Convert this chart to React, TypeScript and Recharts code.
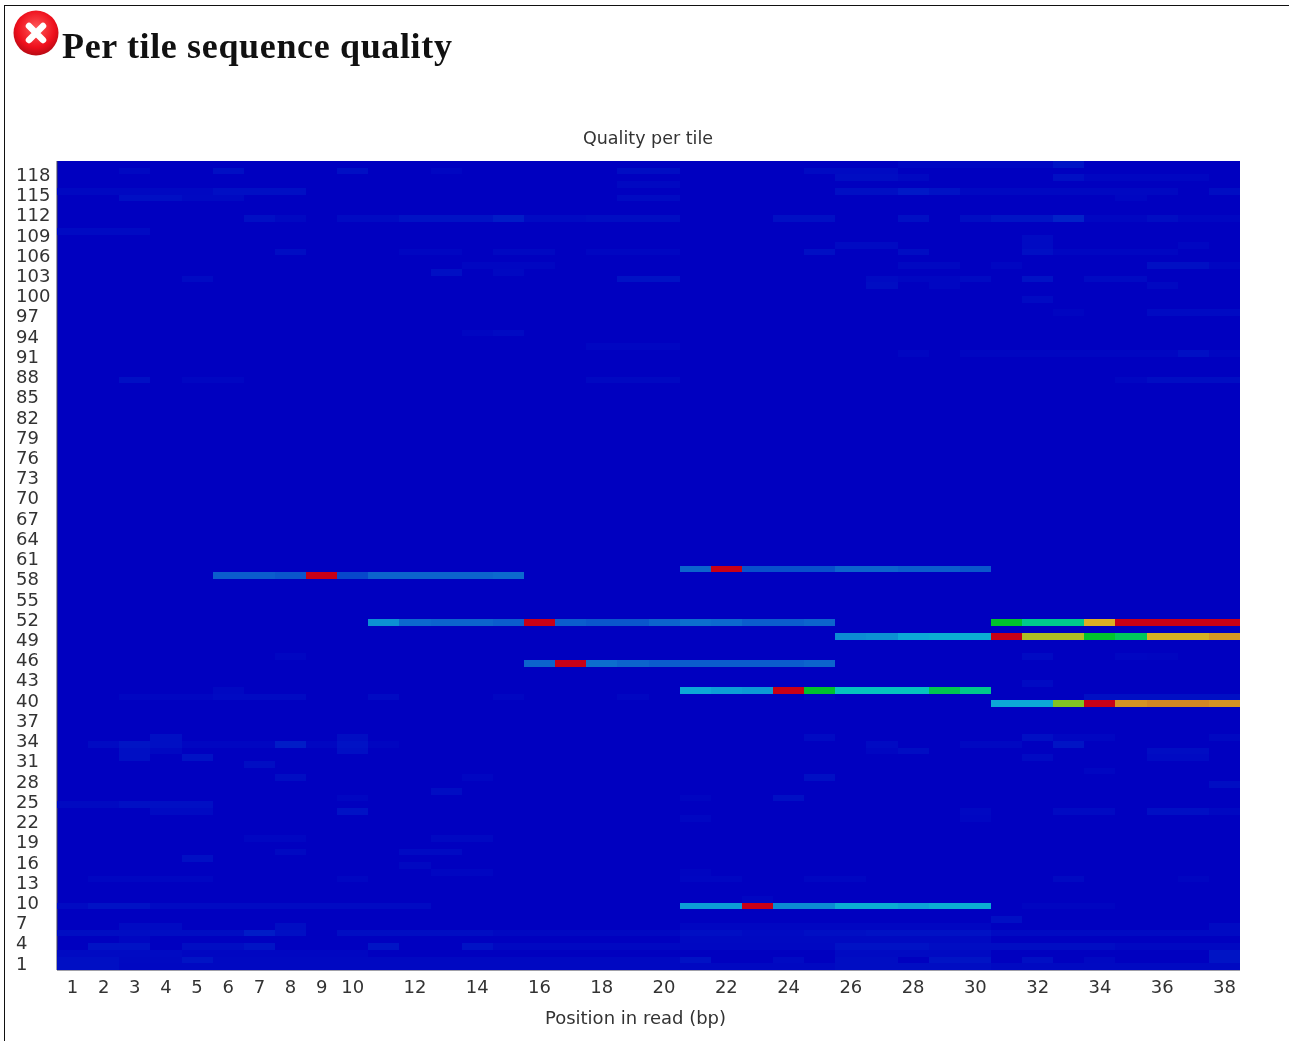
import { CartesianGrid, Scatter, ScatterChart, XAxis, YAxis } from "recharts";

const tileCount = 120;
const positionCount = 38;

const positionTicks = [1, 2, 3, 4, 5, 6, 7, 8, 9, 10, 12, 14, 16, 18, 20, 22, 24, 26, 28, 30, 32, 34, 36, 38];
const tileTicks = [
  1, 4, 7, 10, 13, 16, 19, 22, 25, 28, 31, 34, 37, 40, 43, 46, 49, 52, 55, 58, 61, 64, 67, 70, 73, 76, 79, 82, 85,
  88, 91, 94, 97, 100, 103, 106, 109, 112, 115, 118,
];

// failing tiles: [tile, first position, values...]
const hotRuns: number[][] = [
  [60, 21, 0.16, 1, 0.13, 0.13, 0.13, 0.16, 0.16, 0.15, 0.15, 0.14],
  [59, 6, 0.15, 0.15, 0.14, 1, 0.12, 0.16, 0.16, 0.16, 0.16, 0.17],
  [52, 11, 0.25, 0.17, 0.16, 0.16, 0.15, 1, 0.15, 0.14, 0.14, 0.16, 0.18, 0.17, 0.15, 0.15, 0.16],
  [52, 31, 0.5, 0.42, 0.42, 0.7, 1, 1, 1, 1],
  [50, 26, 0.24, 0.25, 0.3, 0.31, 0.31, 1, 0.63, 0.63, 0.5, 0.46, 0.69, 0.69, 0.76],
  [46, 16, 0.16, 1, 0.18, 0.16, 0.15, 0.15, 0.15, 0.15, 0.15, 0.16],
  [42, 21, 0.3, 0.28, 0.27, 1, 0.5, 0.36, 0.36, 0.36, 0.47, 0.42],
  [40, 31, 0.3, 0.3, 0.58, 1, 0.77, 0.8, 0.8, 0.77],
  [10, 21, 0.28, 0.28, 1, 0.24, 0.24, 0.31, 0.31, 0.29, 0.31, 0.31],
];

// background noise: [tile, first position, last position, value]
const faintRuns: number[][] = [
  [120, 28, 32, 0.012], [120, 33, 33, 0.04],
  [119, 3, 3, 0.015], [119, 6, 6, 0.03], [119, 10, 10, 0.03], [119, 13, 13, 0.012], [119, 19, 20, 0.025], [119, 25, 27, 0.02],
  [118, 26, 27, 0.025], [118, 28, 28, 0.015], [118, 33, 33, 0.03], [118, 34, 37, 0.012],
  [117, 19, 20, 0.015],
  [116, 1, 5, 0.015], [116, 6, 7, 0.03], [116, 8, 8, 0.03], [116, 26, 27, 0.03], [116, 28, 28, 0.05], [116, 29, 29, 0.035], [116, 30, 36, 0.015], [116, 38, 38, 0.025],
  [115, 3, 4, 0.03], [115, 5, 6, 0.018], [115, 19, 20, 0.02], [115, 35, 35, 0.012],
  [112, 7, 7, 0.03], [112, 8, 8, 0.015], [112, 10, 11, 0.02], [112, 12, 14, 0.035], [112, 15, 15, 0.055], [112, 16, 17, 0.02], [112, 18, 20, 0.025],
  [112, 24, 25, 0.03], [112, 28, 28, 0.03], [112, 30, 30, 0.025], [112, 31, 32, 0.04], [112, 33, 33, 0.065], [112, 34, 35, 0.012], [112, 36, 36, 0.025], [112, 37, 38, 0.012],
  [110, 1, 3, 0.02], [109, 32, 32, 0.02],
  [108, 26, 27, 0.02], [108, 32, 32, 0.02], [108, 37, 37, 0.012],
  [107, 8, 8, 0.025], [107, 12, 13, 0.012], [107, 15, 16, 0.015], [107, 18, 20, 0.012], [107, 25, 25, 0.03], [107, 28, 28, 0.025], [107, 32, 32, 0.03], [107, 33, 36, 0.012],
  [105, 14, 16, 0.012], [105, 28, 29, 0.015], [105, 31, 31, 0.012], [105, 36, 37, 0.03], [105, 38, 38, 0.012],
  [104, 13, 13, 0.03], [104, 15, 15, 0.015],
  [103, 5, 5, 0.02], [103, 19, 20, 0.035], [103, 27, 27, 0.02], [103, 28, 29, 0.012], [103, 30, 30, 0.02], [103, 32, 32, 0.035], [103, 34, 35, 0.02],
  [102, 27, 27, 0.025], [102, 29, 29, 0.012], [102, 36, 36, 0.015],
  [100, 32, 32, 0.02],
  [98, 33, 33, 0.01], [98, 36, 38, 0.02],
  [95, 14, 15, 0.012], [95, 15, 15, 0.02],
  [93, 18, 20, 0.012],
  [92, 28, 28, 0.012], [92, 30, 36, 0.012], [92, 37, 37, 0.03], [92, 38, 38, 0.012],
  [88, 3, 3, 0.03], [88, 5, 6, 0.012], [88, 18, 20, 0.015], [88, 35, 35, 0.012], [88, 36, 38, 0.025],
  [47, 8, 8, 0.012], [47, 32, 32, 0.02], [47, 35, 35, 0.012], [47, 36, 36, 0.01],
  [43, 32, 32, 0.02], [42, 6, 6, 0.015],
  [41, 3, 5, 0.012], [41, 6, 8, 0.02], [41, 11, 11, 0.02], [41, 15, 15, 0.012], [41, 19, 19, 0.012], [41, 25, 25, 0.01], [41, 34, 38, 0.03],
  [35, 4, 4, 0.03], [35, 10, 10, 0.025], [35, 25, 25, 0.02], [35, 32, 32, 0.03], [35, 33, 34, 0.012], [35, 38, 38, 0.015],
  [34, 2, 2, 0.02], [34, 3, 3, 0.04], [34, 4, 4, 0.03], [34, 5, 7, 0.012], [34, 8, 8, 0.055], [34, 9, 9, 0.012], [34, 10, 10, 0.035], [34, 11, 11, 0.01],
  [34, 27, 27, 0.02], [34, 30, 31, 0.015], [34, 33, 33, 0.04],
  [33, 3, 3, 0.03], [33, 4, 4, 0.015], [33, 10, 10, 0.03], [33, 27, 27, 0.012], [33, 28, 28, 0.025], [33, 36, 37, 0.025],
  [32, 3, 3, 0.03], [32, 5, 5, 0.035], [32, 32, 32, 0.02], [32, 36, 37, 0.02],
  [31, 7, 7, 0.025], [30, 34, 34, 0.012],
  [29, 8, 8, 0.025], [29, 14, 14, 0.012], [29, 25, 25, 0.03],
  [28, 38, 38, 0.025], [27, 13, 13, 0.025],
  [26, 10, 10, 0.012], [26, 21, 21, 0.01], [26, 24, 24, 0.03],
  [25, 1, 2, 0.018], [25, 3, 5, 0.03], [24, 4, 5, 0.02], [24, 10, 10, 0.035], [24, 30, 30, 0.015], [24, 33, 34, 0.02], [24, 36, 37, 0.03], [24, 38, 38, 0.015],
  [23, 21, 21, 0.012], [23, 30, 30, 0.012],
  [20, 7, 8, 0.012], [20, 13, 14, 0.015],
  [18, 8, 8, 0.018], [18, 12, 13, 0.02], [17, 5, 5, 0.03], [16, 12, 12, 0.015],
  [15, 13, 14, 0.012], [15, 21, 21, 0.01],
  [14, 2, 5, 0.012], [14, 10, 10, 0.012], [14, 21, 22, 0.012], [14, 25, 26, 0.012], [14, 33, 33, 0.018], [14, 37, 37, 0.01],
  [11, 23, 23, 0.012], [10, 1, 1, 0.02], [10, 2, 3, 0.035], [10, 4, 12, 0.02], [10, 32, 34, 0.01],
  [8, 31, 31, 0.03],
  [7, 3, 4, 0.02], [7, 8, 8, 0.025], [7, 21, 30, 0.012], [7, 38, 38, 0.02],
  [6, 1, 2, 0.025], [6, 3, 6, 0.025], [6, 7, 7, 0.055], [6, 8, 8, 0.03], [6, 10, 14, 0.025], [6, 15, 20, 0.015], [6, 21, 22, 0.03], [6, 23, 24, 0.02], [6, 25, 26, 0.03], [6, 27, 30, 0.035], [6, 31, 38, 0.02],
  [5, 3, 3, 0.012], [5, 21, 30, 0.018],
  [4, 2, 3, 0.035], [4, 5, 6, 0.025], [4, 7, 7, 0.04], [4, 11, 11, 0.04], [4, 14, 14, 0.035], [4, 15, 25, 0.015], [4, 26, 28, 0.035], [4, 29, 34, 0.025], [4, 35, 38, 0.015],
  [3, 1, 4, 0.02], [3, 5, 10, 0.012], [3, 26, 30, 0.02], [3, 38, 38, 0.04],
  [2, 1, 2, 0.03], [2, 3, 4, 0.018], [2, 5, 5, 0.04], [2, 6, 14, 0.015], [2, 15, 20, 0.015], [2, 21, 21, 0.035], [2, 24, 24, 0.02], [2, 26, 27, 0.025], [2, 29, 30, 0.04], [2, 32, 32, 0.03], [2, 34, 34, 0.015], [2, 38, 38, 0.04],
  [1, 1, 2, 0.03], [1, 3, 12, 0.015], [1, 13, 25, 0.015], [1, 26, 30, 0.025], [1, 31, 38, 0.018],
];

const colorStops: [number, number[]][] = [
  [0, [0, 0, 192]],
  [0.06, [0, 30, 200]],
  [0.16, [12, 100, 205]],
  [0.3, [12, 168, 215]],
  [0.36, [5, 195, 190]],
  [0.42, [0, 200, 140]],
  [0.5, [0, 195, 45]],
  [0.58, [130, 195, 35]],
  [0.63, [175, 190, 35]],
  [0.7, [220, 175, 35]],
  [0.8, [210, 135, 35]],
  [1, [200, 0, 22]],
];

const heatColor = (value: number) => {
  for (let i = 1; i < colorStops.length; i++) {
    const [hiValue, hi] = colorStops[i];
    const [loValue, lo] = colorStops[i - 1];
    if (value <= hiValue) {
      const t = (value - loValue) / (hiValue - loValue);
      const c = lo.map((l, k) => Math.round(l + (hi[k] - l) * t));
      return `rgb(${c[0]},${c[1]},${c[2]})`;
    }
  }
  return "rgb(200,0,22)";
};

const cells: { pos: number; tile: number; value: number }[] = [];
faintRuns.forEach(([tile, first, last, value]) => {
  for (let pos = first; pos <= last; pos++) cells.push({ pos, tile, value });
});
hotRuns.forEach(([tile, first, ...values]) => {
  values.forEach((value, i) => cells.push({ pos: first + i, tile, value }));
});

const plotWidth = 1183;
const plotHeight = 809;
const cellWidth = plotWidth / positionCount;
const cellHeight = plotHeight / tileCount;

const HeatCell = (props: any) => (
  <rect
    x={props.cx - cellWidth / 2}
    y={props.cy - cellHeight / 2}
    width={cellWidth}
    height={cellHeight}
    fill={heatColor(props.payload.value)}
    shapeRendering="crispEdges"
  />
);

const TileTick = (props: any) => (
  <text x={16} y={props.y + 3} fontSize={18} fill="#333" fontFamily="DejaVu Sans">
    {props.payload.value}
  </text>
);

const App = () => (
  <div
    style={{
      position: "absolute",
      left: 0,
      top: 0,
      width: 1289,
      height: 1041,
      background: "white",
      overflow: "hidden",
      filter: "blur(0.5px)",
    }}
  >
    <div style={{ position: "absolute", left: 4, top: 5, right: 0, bottom: 0, borderLeft: "1px solid #111", borderTop: "1px solid #111" }} />
    <svg width={50} height={50} style={{ position: "absolute", left: 12, top: 8 }}>
      <defs>
        <radialGradient id="errorBall" cx="50%" cy="40%" r="60%">
          <stop offset="0%" stopColor="#ff5a5a" />
          <stop offset="70%" stopColor="#ee0f1c" />
          <stop offset="100%" stopColor="#b80a14" />
        </radialGradient>
      </defs>
      <circle cx={24} cy={25} r={22.5} fill="url(#errorBall)" />
      <path d="M17 18 L31 32 M31 18 L17 32" stroke="white" strokeWidth={6.5} strokeLinecap="round" />
    </svg>
    <div
      style={{
        position: "absolute",
        left: 62,
        top: 25,
        fontFamily: "Liberation Serif",
        fontWeight: "bold",
        fontSize: 36,
        letterSpacing: 0.65,
        color: "#111",
        whiteSpace: "nowrap",
      }}
    >
      Per tile sequence quality
    </div>
    <div
      style={{
        position: "absolute",
        left: 448,
        width: 400,
        top: 128,
        textAlign: "center",
        fontFamily: "DejaVu Sans",
        fontSize: 17.5,
        color: "#333",
      }}
    >
      Quality per tile
    </div>
    <ScatterChart width={1289} height={1041} margin={{ top: 161, right: 49, bottom: 0, left: 0 }}>
      <CartesianGrid horizontal={false} vertical={false} fill="#0000c0" fillOpacity={1} />
      <XAxis
        type="number"
        dataKey="pos"
        domain={[0.5, positionCount + 0.5]}
        ticks={positionTicks}
        interval={0}
        height={71}
        tickLine={false}
        tickMargin={4}
        stroke="#445"
        tick={{ fontSize: 18, fill: "#333", fontFamily: "DejaVu Sans" }}
        label={{
          value: "Position in read (bp)",
          position: "insideBottom",
          offset: 17,
          dx: -13,
          fontSize: 18,
          fill: "#333",
          fontFamily: "DejaVu Sans",
        }}
      />
      <YAxis
        type="number"
        dataKey="tile"
        domain={[0.5, tileCount + 0.5]}
        ticks={tileTicks}
        interval={0}
        width={57}
        tickLine={false}
        stroke="#445"
        tick={<TileTick />}
      />
      <Scatter data={cells} shape={<HeatCell />} isAnimationActive={false} />
    </ScatterChart>
  </div>
);

export default App;
